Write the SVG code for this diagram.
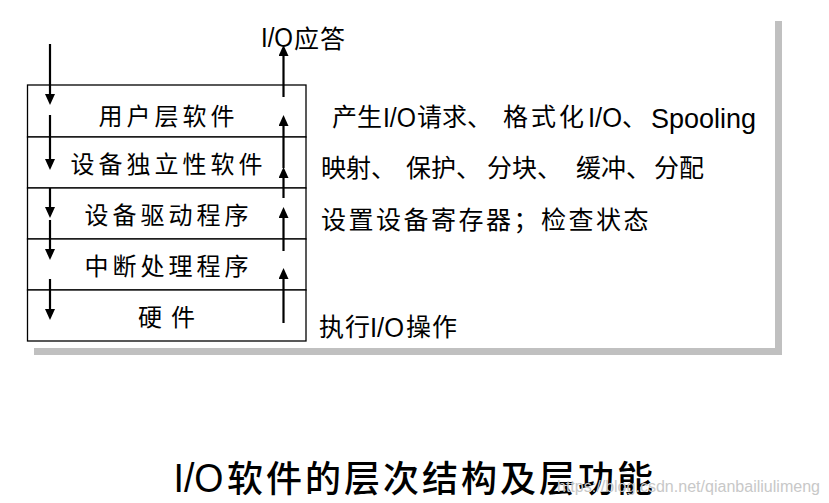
<svg xmlns="http://www.w3.org/2000/svg" width="829" height="503" viewBox="0 0 829 503">
<style>
.cjk{font-family:"Noto Sans CJK SC","Noto Sans",sans-serif;fill:#000}
.lat{font-family:"Liberation Sans",Arial,sans-serif;fill:#000}
.lbl{font-size:24px;letter-spacing:4px}
.ann{font-size:25px;letter-spacing:0px}
.row{fill:#fff;stroke:#000;stroke-width:1.3}
.shadow{fill:#c0c0c0}
.arr{stroke:#000;stroke-width:2.2;fill:none}
</style>
<defs>
<marker id="ah" markerUnits="userSpaceOnUse" markerWidth="12" markerHeight="11" refX="0" refY="5" orient="auto">
<path d="M0,0 L11,5 L0,10 z" fill="#000"/>
</marker>
</defs>
<rect width="829" height="503" fill="#fff"/>
<g id="shadow">
<rect class="shadow" x="34" y="348" width="748" height="7"/>
<rect class="shadow" x="775" y="21" width="7" height="334"/>
</g>
<g id="layer-user">
<rect class="row" x="27.5" y="85" width="278.5" height="52"/>
<text class="cjk lbl" x="98.5" y="125">用户层软件</text>
</g>
<g id="layer-independent">
<rect class="row" x="27.5" y="137" width="278.5" height="51"/>
<text class="cjk lbl" x="70.5" y="173">设备独立性软件</text>
</g>
<g id="layer-driver">
<rect class="row" x="27.5" y="188" width="278.5" height="51"/>
<text class="cjk lbl" x="84.5" y="224">设备驱动程序</text>
</g>
<g id="layer-interrupt">
<rect class="row" x="27.5" y="239" width="278.5" height="51"/>
<text class="cjk lbl" x="84.5" y="275">中断处理程序</text>
</g>
<g id="layer-hardware">
<rect class="row" x="27.5" y="290" width="278.5" height="51"/>
<text class="cjk lbl" x="138" y="326" style="letter-spacing:9px">硬件</text>
</g>
<g id="connectors">
<line class="arr" x1="50" y1="44" x2="50" y2="94" marker-end="url(#ah)"/>
<line class="arr" x1="50" y1="115" x2="50" y2="159" marker-end="url(#ah)"/>
<line class="arr" x1="50" y1="188" x2="50" y2="207" marker-end="url(#ah)"/>
<line class="arr" x1="50" y1="220" x2="50" y2="249" marker-end="url(#ah)"/>
<line class="arr" x1="50" y1="279" x2="50" y2="309" marker-end="url(#ah)"/>
<line class="arr" x1="283.5" y1="97" x2="283.5" y2="56" marker-end="url(#ah)"/>
<line class="arr" x1="283.5" y1="168" x2="283.5" y2="126" marker-end="url(#ah)"/>
<line class="arr" x1="283.5" y1="198" x2="283.5" y2="178" marker-end="url(#ah)"/>
<line class="arr" x1="283.5" y1="251" x2="283.5" y2="218" marker-end="url(#ah)"/>
<line class="arr" x1="283.5" y1="323" x2="283.5" y2="279" marker-end="url(#ah)"/>
</g>
<g id="annotations">
<text class="lat" x="261" y="47" font-size="27" textLength="32" lengthAdjust="spacingAndGlyphs">I/O</text>
<text class="cjk ann" x="294" y="47.5" style="letter-spacing:1px">应答</text>

<text class="cjk ann" x="332" y="125.5">产生</text>
<text class="lat" x="383" y="127" font-size="27" textLength="33" lengthAdjust="spacingAndGlyphs">I/O</text>
<text class="cjk ann" x="417" y="125.5">请求、</text>
<text class="cjk ann" x="503" y="125.5" style="letter-spacing:3px">格式化</text>
<text class="lat" x="588" y="127" font-size="27" textLength="34" lengthAdjust="spacingAndGlyphs">I/O</text>
<text class="cjk ann" x="622" y="125.5">、</text>
<text class="lat" x="651" y="128" font-size="27">Spooling</text>

<text class="cjk ann" y="176.5"><tspan x="321">映射、</tspan><tspan x="406">保护、</tspan><tspan x="487">分块、</tspan><tspan x="576">缓冲、</tspan><tspan x="654">分配</tspan></text>

<text class="cjk ann" x="321" y="228.5" style="letter-spacing:2.5px">设置设备寄存器；检查状态</text>

<text class="cjk ann" x="319" y="335.5" style="letter-spacing:1px">执行</text>
<text class="lat" x="370" y="337" font-size="27" textLength="34" lengthAdjust="spacingAndGlyphs">I/O</text>
<text class="cjk ann" x="406" y="335.5" style="letter-spacing:1px">操作</text>
</g>
<g id="title">
<text class="lat" x="173.5" y="492" font-size="40" font-weight="500" textLength="50" lengthAdjust="spacingAndGlyphs">I/O</text>
<text class="cjk" x="227" y="492" font-size="36" font-weight="500" style="letter-spacing:3px">软件的层次结构及层功能</text>
</g>
<text class="lat" x="557" y="492" font-size="16" style="fill:#c8c8c8" textLength="263" lengthAdjust="spacingAndGlyphs">https://blog.csdn.net/qianbailiulimeng</text>
</svg>
